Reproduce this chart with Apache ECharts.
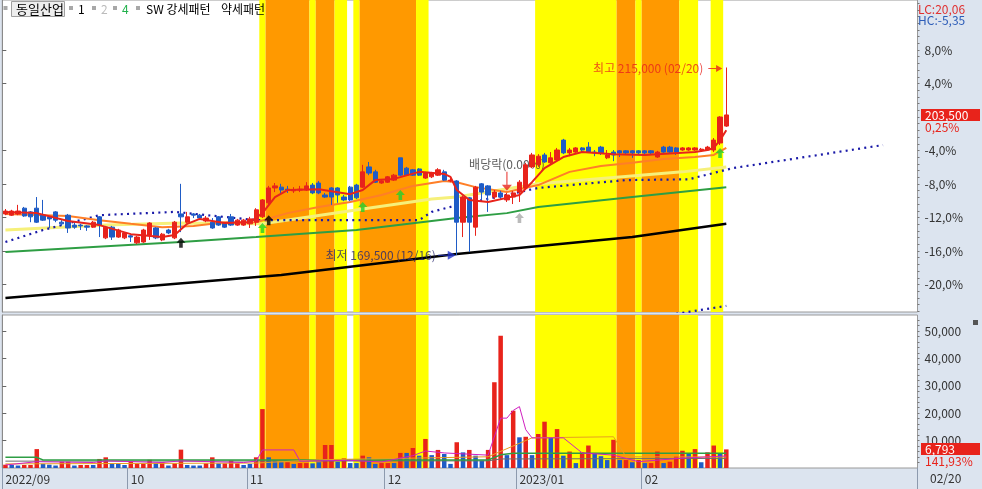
<!DOCTYPE html>
<html><head><meta charset="utf-8">
<script src="https://cdn.jsdelivr.net/npm/echarts@6/dist/echarts.min.js"></script>
<style>html,body{margin:0;padding:0;background:#fff}#c{width:982px;height:489px}</style>
</head><body><div id="c"></div><script>
const FONT = '"Noto Sans CJK KR", "Noto Sans", sans-serif';
const SLOTS = 146;
const monthStarts = [0, 20, 39, 61, 82, 102];
const monthLabels = ['2022/09', '10', '11', '12', '2023/01', '02'];
const lastDateLabel = '02/20';
const BASE = 203000;            // reference price for the % axis
const priceTickPct = [-20, -16, -12, -8, -4, 4, 8];
const volTicks = [10000, 20000, 30000, 40000, 50000];

// [open, close, low, high]
const candles = [
[179500,180200,179200,180700],[179200,180200,179000,180500],[179500,180200,179200,181700],[180900,179000,178800,181200],
[180000,178800,177500,180200],[180900,177500,177300,183600],[179200,178000,177800,182900],[178800,178300,176100,179000],
[180000,178000,177500,180200],[177500,177100,176600,178000],[179200,176100,174900,179500],[176800,176300,175900,177500],
[176800,176600,175600,177100],[176600,176300,175400,176800],[176300,177500,176100,177800],[178800,176800,173900,179000],
[173700,176300,173400,176600],[176300,173900,173200,176600],[173900,175600,173700,175900],[173700,174900,173400,175100],
[174200,173900,172700,174400],[172500,173900,172200,174200],[172700,175600,172500,175900],[174400,177300,173200,177500],
[176100,173700,173400,176300],[173200,174600,172900,174900],[175600,174900,174600,175900],[173700,177500,173400,177800],
[179500,178800,175100,186800],[177500,178800,177300,180000],[179500,179200,178500,179700],[179200,178500,178000,179500],
[177800,178500,177500,179000],[177500,176100,175900,178500],[178800,176800,176600,179000],[177300,176300,176100,177500],
[178800,176800,176600,179500],[176800,178000,176600,178300],[176800,178000,176600,178300],[177100,178300,176100,178800],
[177500,180500,176600,180900],[178800,182900,178500,183100],[182200,185800,181700,186300],[185800,186300,184800,187000],
[186000,185300,184600,186800],[185500,185300,184600,186300],[185100,185300,184600,186000],[185300,185500,184800,186300],
[185300,186300,185100,187200],[186500,184600,184300,187000],[187000,184600,184300,187500],[184100,183600,183400,184600],
[185800,183600,181700,186000],[185800,184100,182200,186000],[183600,182900,182600,184100],[186000,182900,182600,186300],
[186500,183400,183100,186800],[186000,189700,185800,191400],[190900,189400,188900,192100],[189700,187200,187000,190200],
[187000,187500,186800,187700],[187200,188500,187000,188700],[187700,188900,187500,189200],[193100,188900,188700,193100],
[190600,188900,188700,190900],[190200,188900,188700,190400],[190400,188900,188700,190600],[188200,189400,188000,189700],
[188500,189400,188200,189700],[188900,190200,188700,190600],[189700,187700,187500,190200],[187500,187700,187200,188200],
[187500,177500,169500,187700],[177500,183600,173900,183900],[183400,177500,170300,183600],[176300,186000,174200,186300],
[186800,184800,182900,187000],[186300,184100,180000,186500],[183600,184800,183100,185300],[184600,183600,182900,185100],
[182900,184100,182400,184600],[183600,184600,181900,185100],[184800,187200,182400,187700],[185800,191400,185300,191900],
[190900,193800,190600,194300],[191400,193500,190900,194000],[193800,192100,191900,194300],[191900,193100,191400,194500],
[192600,195000,192300,195500],[197400,194300,194000,197700],[194300,195000,193500,195500],[194500,195500,194300,195700],
[195500,195000,194500,195700],[195700,194500,194300,196900],[194500,194300,193500,195000],[195700,194300,193800,196000],
[193100,193800,192800,195000],[194500,193800,192300,195000],[194800,194300,193300,195000],[194800,194300,193800,195000],
[194800,194300,193100,195000],[194800,194300,193800,195000],[194800,194300,193600,195000],[194800,194300,193800,195000],
[193300,194500,193100,194800],[195700,194500,194300,196000],[195700,194500,194300,196000],[195500,194500,193800,195700],
[195000,195500,194800,195700],[195000,195500,194800,195700],[195000,195500,194800,195700],[195000,195200,194800,195500],
[195000,195700,194800,196000],[195000,197400,194500,197900],[196700,203000,196200,203200],[200800,203500,200600,215000]
];

const volumes = [
1200,1100,900,1100,1100,6900,1500,1200,900,2300,2300,900,1100,1100,1100,3300,3900,1500,1500,1100,
2300,1500,1500,3000,1800,2100,900,1700,6700,1100,900,900,1700,3900,1700,1700,2700,1700,1100,
1500,3900,21500,3900,2700,2100,2100,1500,1800,1800,1700,2100,8400,8400,2300,3500,1800,1800,4500,3900,1500,1800,
1800,1800,5500,5500,7300,4500,10600,4700,6600,5100,1500,9400,5700,6600,4500,2700,6600,31300,48300,4700,20900,
11200,11400,4700,12400,16900,11200,14200,4500,6000,1800,5700,8200,5500,4300,2900,10300,2900,2900,2100,2900,
1800,1800,6000,1800,2300,4300,6300,5100,6900,2100,5700,8200,5100,6793
];
// 1 = red bar, 0 = blue bar
const volDir = [
1,0,0,1,1,1,0,0,0,1,1,0,1,1,0,1,1,0,0,0,
1,1,1,1,0,1,0,1,1,0,0,0,1,1,0,1,1,1,0,
0,1,1,0,0,0,1,0,1,1,0,0,1,1,0,1,0,0,1,0,0,1,
1,0,1,0,1,0,1,0,1,0,0,1,0,1,0,0,1,1,1,0,1,
0,1,0,1,1,0,1,0,1,0,1,1,0,0,0,1,0,1,0,1,
0,1,1,0,1,1,1,0,1,0,1,1,0,1
];

// moving averages etc. as [slot, value] vertices
const maRed = [[0,180000],[5,179700],[10,177800],[15,176800],[20,174600],[25,173900],[27,174400],[29,177100],[31,178300],[35,177300],[39,177500],[41,179700],[43,183600],[45,185300],[50,185500],[55,184300],[57,185300],[59,187700],[62,188000],[66,189700],[70,189200],[71,188500],[72,185300],[74,182900],[77,182400],[80,183400],[82,184100],[84,187200],[86,190600],[89,193300],[92,194500],[97,194000],[102,193800],[110,194500],[112,195000],[113,195500],[114,197400],[115,199800]];
const maOrange = [[0,179500],[10,179000],[15,178000],[20,177100],[25,176300],[30,176600],[35,177500],[40,177500],[45,179700],[50,181200],[55,182400],[60,184100],[65,186300],[70,187500],[72,187200],[75,186000],[80,184800],[85,186500],[90,189700],[95,191100],[100,191900],[105,192800],[110,193300],[113,193800],[115,195500]];
const maYellow = [[0,175600],[16,176800],[28,177300],[41,177100],[57,180700],[68,183100],[72,183600],[85,186800],[108,189700],[115,190900]];
const maGreen = [[0,170300],[28,172700],[40,173900],[56,175600],[72,178500],[80,179700],[85,181200],[100,183600],[115,186000]];
const maBlack = [[0,159100],[44,164700],[72,169800],[100,173900],[115,177100]];
const spanA = [[0,172700],[6,175600],[15,179200],[27,180000],[40,178000],[66,178000],[68,180000],[71,181200],[85,185800],[99,187700],[109,187900],[116,190600],[140,196200]];
const spanB = [[107,155300],[115,157200]];

const volMa5 = [[0,1100],[5,2300],[14,2000],[16,2600],[25,2000],[28,2600],[38,2000],[40,2500],[41,6600],[46,6600],[47,2500],[55,2800],[60,2200],[65,4500],[67,6200],[70,5500],[77,4700],[79,18200],[80,18200],[81,21000],[82,22400],[83,14000],[84,11000],[89,11000],[92,5500],[97,4700],[101,2300],[108,3600],[115,4400]];
const volMa20 = [[0,1500],[40,1800],[50,3000],[70,3800],[77,4100],[84,11000],[97,11400],[99,4100],[115,4000]];
const volMa60 = [[0,3900],[5,3900],[6,2900],[77,2900],[79,4800],[81,5400],[115,5400]];
const volMa120 = [[0,2500],[77,2600],[79,3300],[115,3500]];

// strong-pattern shading: [firstSlot, lastSlot, kind]
const bands = [[41,41,'Y'],[42,48,'O'],[49,49,'Y'],[50,52,'O'],[53,54,'Y'],[56,56,'Y'],[57,65,'O'],[66,67,'Y'],
[85,97,'Y'],[98,100,'O'],[101,101,'Y'],[102,107,'O'],[108,110,'Y'],[113,114,'Y']];

const upBlack = [[28,172500],[42,178000]];
const upGreen = [[41,176100],[57,181200],[63,184100],[114,194300]];
const upGray = [[82,178500]];
const exDiv = {slot: 80, price: 187400, text: '배당락(0.00%)'};
const hiNote = {slot: 115, price: 215000, text: '최고 215,000 (02/20)'};
const loNote = {slot: 72, price: 169500, text: '최저 169,500 (12/16)'};
const volRatioText = '141,93%';
const lcText = 'LC:20,06', hcText = 'HC:-5,35';

// ---------------------------------------------------------------
const RED = '#E8231B', BLUE = '#1F5CC6';
const PMAX = 231361, PMIN = 155732, VMAX = 55840;
const cats = Array.from({length: SLOTS}, (_, i) => String(i));
const fmtPct = v => ((v / BASE - 1) * 100).toFixed(1).replace('.', ',') + '%';
const priceMajor = priceTickPct.map(p => BASE * (1 + p / 100));
const priceMinor = [];
for (let k = -29; k <= 17; k++) priceMinor.push(BASE * (1 + k * 0.008));
const volMinor = [];
for (let v = 2000; v <= 54000; v += 2000) volMinor.push(v);

const bandAreas = bands.map(([s, e, t]) => [
  {xAxis: s, itemStyle: {color: t === 'Y' ? '#FFFF00' : '#FF9900', opacity: 1}}, {xAxis: e + 1}]);
const bandSeries = (xi, yi) => ({
  type: 'line', xAxisIndex: xi, yAxisIndex: yi, data: [[0, 0]], symbol: 'none', silent: true, z: 1,
  lineStyle: {opacity: 0}, animation: false,
  markArea: {silent: true, animation: false, data: bandAreas}
});

const upArrow = 'path://M5 0 L10 5 L7 5 L7 10 L3 10 L3 5 L0 5 Z';
const downArrowLine = 'path://M4.4 0 L5.6 0 L5.6 13 L10 13 L5 19 L0 13 L4.4 13 Z';
const rightArrow = 'path://M0 4 L10 4 L10 0 L18 4.5 L10 9 L10 5 L0 5 Z';

const chart = echarts.init(document.getElementById('c'));
const lineS = (data, color, width, z, extra) => Object.assign({
  type: 'line', xAxisIndex: 0, yAxisIndex: 0, data, showSymbol: false, symbol: 'none', silent: true,
  lineStyle: {color, width}, z, animation: false
}, extra || {});
const volLine = (data, color, width) => ({
  type: 'line', xAxisIndex: 1, yAxisIndex: 2, data, symbol: 'none', silent: true,
  lineStyle: {color, width}, z: 4, animation: false
});
const arrowS = (data, color) => ({
  type: 'scatter', xAxisIndex: 0, yAxisIndex: 0, data, symbol: upArrow, symbolSize: [9, 10],
  itemStyle: {color}, z: 6, silent: true, animation: false
});

chart.setOption({
  animation: false,
  backgroundColor: '#DCE4EF',
  grid: [
    {left: 2.3, right: 64.5, top: 0, height: 312, show: true, backgroundColor: '#fff', borderColor: '#9A9A9A', borderWidth: 1},
    {left: 2.3, right: 64.5, top: 315, bottom: 21, show: true, backgroundColor: '#fff', borderColor: '#9A9A9A', borderWidth: 1}
  ],
  xAxis: [
    {type: 'category', gridIndex: 0, data: cats, boundaryGap: true, axisLine: {show: false}, axisTick: {show: false}, axisLabel: {show: false}},
    {type: 'category', gridIndex: 1, data: cats, boundaryGap: true, axisLine: {show: false},
      axisTick: {show: true, interval: i => monthStarts.includes(i), length: 21, lineStyle: {color: '#8D9AAE'}},
      axisLabel: {show: true, interval: i => monthStarts.includes(i), formatter: (v, i) => { const k = monthStarts.indexOf(i); return k >= 0 ? monthLabels[k] : ''; },
        align: 'left', margin: 5, color: '#333', fontSize: 12, fontFamily: FONT}},
    {type: 'value', gridIndex: 0, min: 0, max: SLOTS, show: false},
    {type: 'value', gridIndex: 1, min: 0, max: SLOTS, show: false}
  ],
  yAxis: [
    {type: 'value', gridIndex: 0, position: 'right', min: PMIN, max: PMAX, splitLine: {show: false},
      axisLine: {show: true, lineStyle: {color: '#8A8A8A'}},
      axisTick: {show: true, customValues: priceMajor, length: 4, lineStyle: {color: '#666'}},
      axisLabel: {show: true, customValues: priceMajor, formatter: fmtPct, color: '#333', fontSize: 12, fontFamily: FONT, margin: 7}},
    {type: 'value', gridIndex: 0, position: 'right', min: PMIN, max: PMAX, splitLine: {show: false},
      axisLine: {show: false}, axisLabel: {show: false},
      axisTick: {show: true, customValues: priceMinor, length: 2, lineStyle: {color: '#777'}}},
    {type: 'value', gridIndex: 1, position: 'right', min: 0, max: VMAX, splitLine: {show: false},
      axisLine: {show: true, lineStyle: {color: '#8A8A8A'}},
      axisTick: {show: true, customValues: volTicks, length: 4, lineStyle: {color: '#666'}},
      axisLabel: {show: true, customValues: volTicks, formatter: v => v.toLocaleString('en-US'), color: '#333', fontSize: 12, fontFamily: FONT, margin: 7}},
    {type: 'value', gridIndex: 1, position: 'right', min: 0, max: VMAX, splitLine: {show: false},
      axisLine: {show: false}, axisLabel: {show: false},
      axisTick: {show: true, customValues: volMinor, length: 2, lineStyle: {color: '#777'}}},
    {type: 'value', gridIndex: 0, min: 0, max: 1, show: false},
    {type: 'value', gridIndex: 1, min: 0, max: 1, show: false}
  ],
  series: [
    bandSeries(2, 4),
    bandSeries(3, 5),
    lineS(maBlack, '#000', 2.5, 3),
    lineS(maGreen, '#2E9E44', 2, 3),
    lineS(maYellow, '#F6F07A', 3, 3),
    lineS(spanA, '#1A1AA8', 2, 3, {lineStyle: {color: '#1A1AA8', width: 2.2, type: [2, 4.27]}}),
    lineS(spanB, '#1A1AA8', 2, 3, {lineStyle: {color: '#1A1AA8', width: 2.2, type: [2, 4.27]}}),
    lineS(maOrange, '#FF7F27', 2, 3),
    {type: 'scatter', xAxisIndex: 0, yAxisIndex: 0, data: [[exDiv.slot, exDiv.price]], symbol: downArrowLine, symbolSize: [10, 19],
      itemStyle: {color: RED}, z: 3, silent: true,
      label: {show: true, position: 'top', distance: 1, formatter: exDiv.text, color: '#333', fontSize: 12, fontFamily: FONT}},
    {type: 'candlestick', xAxisIndex: 0, yAxisIndex: 0, data: candles, barWidth: '76%', z: 5, silent: true,
      itemStyle: {color: RED, color0: BLUE, borderColor: RED, borderColor0: BLUE, borderWidth: 1}},
    lineS(maRed, RED, 2, 6),
    arrowS(upBlack, '#000'),
    arrowS(upGreen, '#22D02E'),
    arrowS(upGray, '#A9A9A9'),
    {type: 'scatter', xAxisIndex: 0, yAxisIndex: 0, data: [[hiNote.slot, hiNote.price]], symbol: rightArrow, symbolSize: [14, 7], symbolOffset: [-11, 1],
      itemStyle: {color: RED}, z: 7, silent: true,
      label: {show: true, position: 'left', distance: 5, formatter: hiNote.text, color: RED, fontSize: 12, fontFamily: FONT}},
    {type: 'scatter', xAxisIndex: 0, yAxisIndex: 0, data: [[loNote.slot, loNote.price]], symbol: rightArrow, symbolSize: [18, 9], symbolOffset: [-10, 0],
      itemStyle: {color: '#2233CC'}, z: 7, silent: true,
      label: {show: true, position: 'left', distance: 2, formatter: loNote.text, color: '#26266E', fontSize: 12, fontFamily: FONT}},
    {type: 'bar', xAxisIndex: 1, yAxisIndex: 2, barWidth: '72%', z: 3, silent: true,
      data: volumes.map((v, i) => ({value: v, itemStyle: {color: volDir[i] ? RED : BLUE}}))},
    volLine(volMa120, '#6E6E6E', 1),
    volLine(volMa60, '#2E9E44', 1.5),
    volLine(volMa20, '#E8A020', 1),
    volLine(volMa5, '#D020C0', 1)
  ]
});

// labels in the axis strip, placed from the data through the chart's scales
const last = candles[candles.length - 1], prev = candles[candles.length - 2];
const yPrice = chart.convertToPixel({xAxisIndex: 0, yAxisIndex: 0}, [115, last[1]])[1];
const yVol = chart.convertToPixel({xAxisIndex: 1, yAxisIndex: 2}, [115, volumes[volumes.length - 1]])[1];
const chg = ((last[1] / prev[1] - 1) * 100).toFixed(2).replace('.', ',') + '%';
const T = (x, y, text, color, size, extra) => Object.assign({type: 'text', x, y, silent: true, z: 100,
  style: {text, fill: color, font: (size || 12) + 'px ' + FONT, textVerticalAlign: 'middle'}}, extra || {});
const sq = x => ({type: 'rect', shape: {x, y: 6, width: 4, height: 4}, style: {fill: '#A8A8A8'}, silent: true, z: 100});

chart.setOption({graphic: [
  sq(3.5), {type: 'rect', z: 99, shape: {x: 11.5, y: 1.5, width: 53, height: 15}, style: {fill: '#EEEEEE', stroke: '#A0A0A0', lineWidth: 1}, silent: true},
  T(16, 9.5, '동일산업', '#000', 13),
  sq(69), T(78, 9.5, '1', '#000', 12), sq(92), T(101, 9.5, '2', '#BBBBBB', 12), sq(113), T(122, 9.5, '4', '#22B14C', 12),
  sq(136), T(146, 9.5, 'SW 강세패턴', '#000', 12), T(221, 9.5, '약세패턴', '#000', 12),
  T(918, 9, lcText, '#E03030', 12), T(918, 20, hcText, '#2D5DB8', 12),
  {type: 'rect', shape: {x: 921, y: Math.round(yPrice) - 6, width: 59, height: 12}, style: {fill: RED}, silent: true, z: 100},
  T(925, yPrice, last[1].toLocaleString('en-US'), '#fff', 12, {z: 101}),
  T(925, yPrice + 12, chg, RED, 12, {z: 101}),
  {type: 'rect', shape: {x: 921, y: Math.round(yVol) - 6, width: 59, height: 12}, style: {fill: RED}, silent: true, z: 100},
  T(925, yVol, volumes[volumes.length - 1].toLocaleString('en-US'), '#fff', 12, {z: 101}),
  T(925, yVol + 12, volRatioText, RED, 12, {z: 101}),
  {type: 'rect', shape: {x: 973, y: 320, width: 5, height: 5}, style: {fill: '#555'}, silent: true, z: 100},
  T(930, 478, lastDateLabel, '#333', 12)
]});
</script></body></html>
